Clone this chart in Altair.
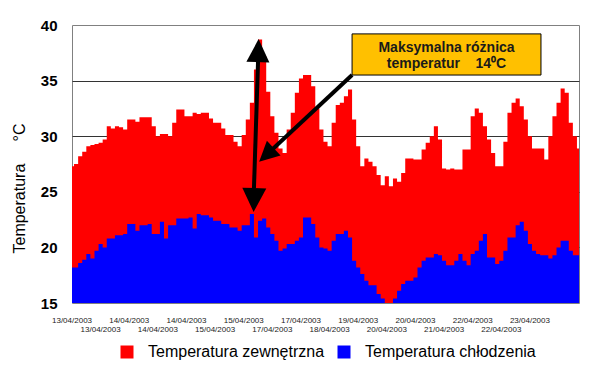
import altair as alt
import pandas as pd

FONT = "Liberation Sans"
NB = "\u00a0"

SERIES = ["Temperatura zewnętrzna", "Temperatura chłodzenia"]
COLORS = ["#FF0000", "#0000FF"]

x_labels = ["13/04/2003", "13/04/2003", "14/04/2003", "14/04/2003", "14/04/2003",
            "15/04/2003", "15/04/2003", "17/04/2003", "17/04/2003", "18/04/2003",
            "19/04/2003", "20/04/2003", "20/04/2003", "21/04/2003", "22/04/2003",
            "22/04/2003", "23/04/2003"]

red = [27.3, 27.5, 28.2, 28.6, 29.1, 29.2, 29.3, 29.4, 29.7, 30.9,
       30.7, 30.9, 30.8, 30.6, 31.5, 31.5, 31.3, 31.7, 31.7, 31.7,
       30.9, 30.0, 30.2, 30.2, 30.0, 31.2, 32.4, 32.4, 31.8, 31.8,
       32.1, 32.0, 32.1, 32.1, 31.6, 31.2, 31.2, 30.7, 30.1, 30.1,
       29.5, 29.1, 30.1, 31.5, 33.0, 36.0, 38.7, 37.2, 34.0, 31.8,
       30.3, 28.9, 28.5, 30.6, 32.1, 33.9, 35.2, 35.5, 35.5, 34.5,
       32.5, 30.6, 29.5, 29.1, 31.2, 32.8, 33.0, 33.6, 34.2, 31.5,
       29.1, 27.3, 28.0, 27.7, 27.3, 26.5, 25.6, 26.4, 25.5, 26.2,
       25.9, 26.7, 28.0, 28.0, 27.9, 27.9, 28.8, 29.4, 30.0, 30.9,
       29.7, 27.1, 27.0, 27.1, 27.0, 27.0, 28.8, 28.8, 31.8, 32.5,
       32.1, 30.9, 29.7, 28.5, 27.3, 27.3, 29.5, 32.1, 33.0, 33.4,
       32.7, 31.5, 30.0, 28.9, 28.9, 28.9, 27.9, 30.0, 31.8, 33.0,
       34.3, 33.9, 31.2, 30.0, 28.9]

blue = [18.2, 18.2, 18.6, 18.9, 19.4, 19.0, 19.7, 20.3, 20.0, 20.8,
        20.8, 21.1, 21.1, 21.2, 22.1, 22.1, 21.5, 22.0, 22.0, 22.1,
        21.2, 21.2, 22.3, 20.8, 22.0, 22.0, 22.6, 22.6, 22.6, 22.7,
        21.7, 23.0, 22.9, 22.9, 22.7, 22.4, 22.4, 22.1, 22.1, 21.8,
        21.8, 21.5, 22.0, 22.0, 23.0, 20.9, 22.4, 22.6, 21.8, 21.2,
        20.6, 19.7, 19.9, 20.3, 20.3, 20.6, 20.9, 22.7, 22.7, 22.1,
        20.9, 20.0, 19.9, 19.7, 20.6, 21.2, 21.2, 21.5, 20.9, 18.8,
        18.2, 17.6, 17.0, 16.6, 16.6, 15.8, 15.4, 15.0, 15.0, 15.4,
        16.1, 16.7, 17.0, 17.0, 17.3, 18.2, 18.8, 19.1, 19.1, 19.4,
        19.3, 18.8, 18.4, 18.4, 18.8, 19.4, 18.8, 18.4, 19.4, 19.7,
        20.6, 21.2, 19.1, 19.1, 18.5, 18.8, 19.7, 20.9, 20.9, 22.0,
        22.3, 21.5, 20.3, 19.7, 19.4, 19.3, 19.3, 19.0, 19.3, 20.0,
        20.6, 20.6, 19.7, 19.3, 19.3]

y_ticks = [15, 20, 25, 30, 35, 40]

n = len(red)
df = pd.DataFrame({
    "i": list(range(n)) * 2,
    "v": red + blue,
    "s": [SERIES[0]] * n + [SERIES[1]] * n,
})

STEP = 7
lab_df = pd.DataFrame({
    "i": [k * STEP for k in range(len(x_labels))],
    "t": x_labels,
    "row": [k % 2 for k in range(len(x_labels))],
})

xscale = alt.Scale(domain=[0, n - 1], nice=False, zero=False)
yscale = alt.Scale(domain=[15, 40], nice=False, zero=False)

x_axis = alt.Axis(labels=False, ticks=False, domain=False, grid=False, title=None)
y_axis = alt.Axis(
    values=y_ticks, ticks=False, domain=False, grid=True,
    gridColor={"condition": {"test": "datum.value == 40 || datum.value == 15", "value": "transparent"},
               "value": "#333333"},
    gridWidth=1,
    labelFontSize=15, labelFontWeight="bold", labelFont=FONT, labelColor="#000000",
    labelPadding=15,
    title="Temperatura" + NB * 5 + "°C", titleFontSize=16, titleFontWeight="normal",
    titleFont=FONT, titleColor="#000000", titleX=-45, titleY=163,
    titleAngle=-90, titleAlign="center",
)

color = alt.Color(
    "s:N",
    scale=alt.Scale(domain=SERIES, range=COLORS),
    legend=alt.Legend(
        orient="none", legendX=47, legendY=319, direction="horizontal",
        title=None, symbolType="square", symbolSize=169, symbolStrokeWidth=0,
        symbolOpacity=1, labelFontSize=16, labelFont=FONT, labelColor="#000000",
        labelOffset=13, columnPadding=11, padding=0, labelLimit=400,
    ),
)

base = alt.Chart(df)
red_area = base.transform_filter(alt.datum.s == SERIES[0]).mark_area(
    interpolate="step", clip=True, opacity=1
).encode(
    x=alt.X("i:Q", scale=xscale, axis=x_axis),
    y=alt.Y("v:Q", scale=yscale, axis=y_axis),
    y2=alt.datum(15),
    color=color,
)
blue_area = base.transform_filter(alt.datum.s == SERIES[1]).mark_area(
    interpolate="step", clip=True, opacity=1
).encode(
    x=alt.X("i:Q", scale=xscale),
    y=alt.Y("v:Q", scale=yscale),
    y2=alt.datum(15),
    color=color,
)

# x-axis date labels, staggered in two rows
lab_base = alt.Chart(lab_df).mark_text(
    font=FONT, fontSize=8, color="#222222", baseline="alphabetic", align="center"
)
labels_row1 = lab_base.transform_filter(alt.datum.row == 0).encode(
    x=alt.X("i:Q", scale=xscale), y=alt.value(298), text="t:N"
)
labels_row2 = lab_base.transform_filter(alt.datum.row == 1).encode(
    x=alt.X("i:Q", scale=xscale), y=alt.value(307), text="t:N"
)

# annotation: callout box, arrows (in data coordinates)
box_df = pd.DataFrame({"x": [68.5], "x2": [114.7], "y": [39.2], "y2": [35.5]})
box = alt.Chart(box_df).mark_rect(fill="#FFC000", stroke="#000000", strokeWidth=1).encode(
    x="x:Q", x2="x2:Q", y="y:Q", y2="y2:Q"
)
txt_df = pd.DataFrame({"x": [91.6, 91.6], "y": [37.93, 36.45],
                       "t": ["Maksymalna różnica", "temperatur" + NB * 4 + "14⁰C"]})
txt = alt.Chart(txt_df).mark_text(
    font=FONT, fontSize=14, fontWeight="bold", color="#1a1a1a", baseline="middle"
).encode(x="x:Q", y="y:Q", text="t:N")

lines_df = pd.DataFrame({"x": [45.5, 68.5], "x2": [44.5, 49.1],
                         "y": [36.7, 35.5], "y2": [25.3, 28.85]})
lines = alt.Chart(lines_df).mark_rule(strokeWidth=4, color="#000000").encode(
    x="x:Q", x2="x2:Q", y="y:Q", y2="y2:Q"
)
heads_df = pd.DataFrame({"x": [45.55, 44.5, 47.55], "y": [37.7, 24.26, 28.31],
                         "a": [1.7, 181.7, 227], "sz": [529, 576, 400]})
heads = alt.Chart(heads_df).mark_point(
    filled=True, color="#000000", opacity=1, shape="M0,-1L1,1L-1,1Z", strokeWidth=0
).encode(
    x="x:Q", y="y:Q",
    angle=alt.Angle("a:Q", scale=None),
    size=alt.Size("sz:Q", scale=None),
)

chart = alt.layer(red_area, blue_area, labels_row1, labels_row2, lines, heads, box, txt).properties(
    width=507, height=278, autosize="none",
    padding={"left": 64, "top": 17, "right": 3, "bottom": 68},
    background="#FFFFFF",
).configure_view(stroke="#808080", strokeWidth=1)

chart.save("out.html", embed_options={"renderer": "svg", "actions": False})
